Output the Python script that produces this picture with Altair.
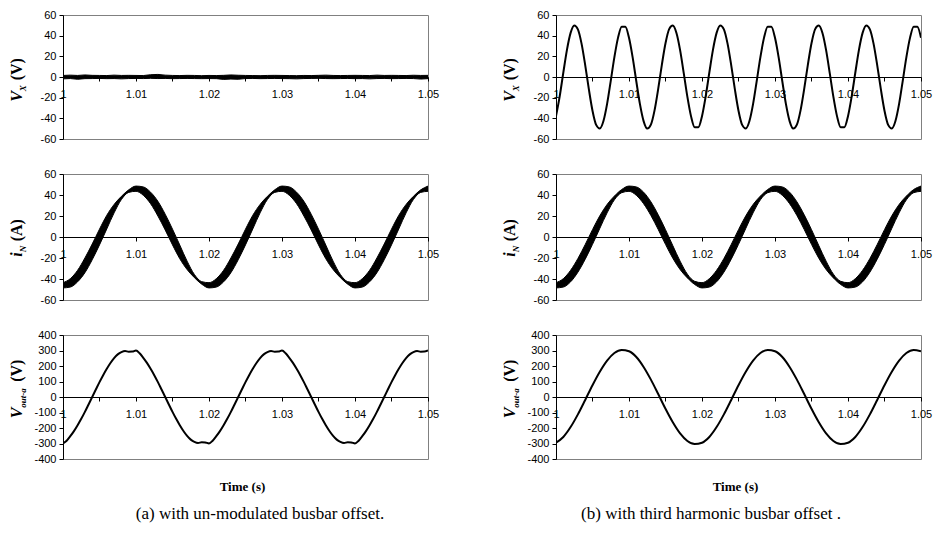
import altair as alt
import pandas as pd

# ---------------- data ----------------
T05 = [
    1.0000, 1.0005, 1.0010, 1.0015, 1.0020, 1.0025, 1.0030, 1.0035, 1.0040, 1.0045,
    1.0050, 1.0055, 1.0060, 1.0065, 1.0070, 1.0075, 1.0080, 1.0085, 1.0090, 1.0095,
    1.0100, 1.0105, 1.0110, 1.0115, 1.0120, 1.0125, 1.0130, 1.0135, 1.0140, 1.0145,
    1.0150, 1.0155, 1.0160, 1.0165, 1.0170, 1.0175, 1.0180, 1.0185, 1.0190, 1.0195,
    1.0200, 1.0205, 1.0210, 1.0215, 1.0220, 1.0225, 1.0230, 1.0235, 1.0240, 1.0245,
    1.0250, 1.0255, 1.0260, 1.0265, 1.0270, 1.0275, 1.0280, 1.0285, 1.0290, 1.0295,
    1.0300, 1.0305, 1.0310, 1.0315, 1.0320, 1.0325, 1.0330, 1.0335, 1.0340, 1.0345,
    1.0350, 1.0355, 1.0360, 1.0365, 1.0370, 1.0375, 1.0380, 1.0385, 1.0390, 1.0395,
    1.0400, 1.0405, 1.0410, 1.0415, 1.0420, 1.0425, 1.0430, 1.0435, 1.0440, 1.0445,
    1.0450, 1.0455, 1.0460, 1.0465, 1.0470, 1.0475, 1.0480, 1.0485, 1.0490, 1.0495,
    1.0500,
]
T1 = T05[::2]

# (a) V_X : residual noise band around zero (1 ms samples)
VX_A_HI = [
    1.5, 1.8, 1.5, 2.0, 1.6, 1.5, 1.4, 1.8, 1.5, 1.6,
    1.5, 1.4, 2.2, 2.5, 1.8, 1.5, 1.4, 1.6, 1.5, 1.3,
    1.5, 1.4, 1.6, 2.0, 1.7, 1.5, 1.4, 1.3, 1.5, 1.6,
    1.5, 1.4, 1.3, 1.5, 1.4, 1.6, 1.8, 1.5, 1.4, 1.5,
    1.6, 1.5, 1.4, 1.8, 1.5, 1.6, 1.5, 1.4, 1.7, 1.5,
    1.6,
]
VX_A_LO = [
    -1.8, -1.5, -2.2, -1.6, -1.5, -1.4, -1.6, -1.5, -1.8, -1.5,
    -1.4, -1.5, -1.3, -1.5, -1.4, -1.6, -1.5, -1.4, -1.5, -1.6,
    -1.5, -1.6, -2.3, -2.0, -2.2, -1.5, -1.4, -1.6, -1.5, -1.4,
    -1.5, -1.6, -1.8, -1.5, -1.4, -1.3, -1.5, -1.6, -1.5, -1.4,
    -1.6, -1.5, -1.8, -1.5, -1.4, -1.6, -1.5, -1.4, -1.5, -2.0,
    -1.6,
]

# (b) V_X : third-harmonic offset (0.5 ms samples)
VX_B = [
    -37.9, -19.0, 4.1, 26.3, 42.7, 49.9, 46.1, 32.3, 11.5, -11.8,
    -32.6, -46.3, -49.8, -42.6, -26.0, -3.7, 19.3, 38.1, 48.7, 48.6,
    37.9, 19.0, -4.1, -26.3, -42.7, -49.9, -46.1, -32.3, -11.5, 11.8,
    32.6, 46.3, 49.8, 42.6, 26.0, 3.7, -19.3, -38.1, -48.7, -48.6,
    -37.9, -19.0, 4.1, 26.3, 42.7, 49.9, 46.1, 32.3, 11.5, -11.8,
    -32.6, -46.3, -49.8, -42.6, -26.0, -3.7, 19.3, 38.1, 48.7, 48.6,
    37.9, 19.0, -4.1, -26.3, -42.7, -49.9, -46.1, -32.3, -11.5, 11.8,
    32.6, 46.3, 49.8, 42.6, 26.0, 3.7, -19.3, -38.1, -48.7, -48.6,
    -37.9, -19.0, 4.1, 26.3, 42.7, 49.9, 46.1, 32.3, 11.5, -11.8,
    -32.6, -46.3, -49.8, -42.6, -26.0, -3.7, 19.3, 38.1, 48.7, 48.6,
    37.9,
]

# i_N : centre of the ripple band and its half-height (1 ms samples)
IN_A_MID = [
    -46.0, -43.7, -37.2, -27.0, -14.2, 0.0, 14.2, 27.0, 37.2, 43.7,
    46.0, 43.7, 37.2, 27.0, 14.2, 0.0, -14.2, -27.0, -37.2, -43.7,
    -46.0, -43.7, -37.2, -27.0, -14.2, 0.0, 14.2, 27.0, 37.2, 43.7,
    46.0, 43.7, 37.2, 27.0, 14.2, 0.0, -14.2, -27.0, -37.2, -43.7,
    -46.0, -43.7, -37.2, -27.0, -14.2, 0.0, 14.2, 27.0, 37.2, 43.7,
    46.0,
]
IN_A_RIP = [
    2.5, 4.0, 5.5, 7.0, 7.5, 7.5, 6.5, 4.0, 1.5, 1.2,
    2.5, 4.0, 5.5, 7.0, 7.5, 7.5, 6.5, 4.0, 1.5, 1.2,
    2.5, 4.0, 5.5, 7.0, 7.5, 7.5, 6.5, 4.0, 1.5, 1.2,
    2.5, 4.0, 5.5, 7.0, 7.5, 7.5, 6.5, 4.0, 1.5, 1.2,
    2.5, 4.0, 5.5, 7.0, 7.5, 7.5, 6.5, 4.0, 1.5, 1.2,
    2.5,
]
IN_B_MID = [
    -46.0, -43.7, -37.2, -27.0, -14.2, 0.0, 14.2, 27.0, 37.2, 43.7,
    46.0, 43.7, 37.2, 27.0, 14.2, 0.0, -14.2, -27.0, -37.2, -43.7,
    -46.0, -43.7, -37.2, -27.0, -14.2, 0.0, 14.2, 27.0, 37.2, 43.7,
    46.0, 43.7, 37.2, 27.0, 14.2, 0.0, -14.2, -27.0, -37.2, -43.7,
    -46.0, -43.7, -37.2, -27.0, -14.2, 0.0, 14.2, 27.0, 37.2, 43.7,
    46.0,
]
IN_B_RIP = [
    2.5, 4.0, 5.5, 6.5, 7.0, 7.0, 6.0, 4.0, 1.8, 1.5,
    2.5, 4.0, 5.5, 6.5, 7.0, 7.0, 6.0, 4.0, 1.8, 1.5,
    2.5, 4.0, 5.5, 6.5, 7.0, 7.0, 6.0, 4.0, 1.8, 1.5,
    2.5, 4.0, 5.5, 6.5, 7.0, 7.0, 6.0, 4.0, 1.8, 1.5,
    2.5, 4.0, 5.5, 6.5, 7.0, 7.0, 6.0, 4.0, 1.8, 1.5,
    2.5,
]

# (a) V_out-a with notched tops (0.5 ms samples)
VOUT_A = [
    -300, -282, -253, -220, -182, -141, -96, -48,
    0, 48, 96, 141, 182, 219, 251, 275, 290, 297, 292, 293, 300, 282, 253, 220, 182, 141, 96, 48,
    0, -48, -96, -141, -182, -219, -251, -275, -290, -297, -292, -293, -300, -282, -253, -220, -182, -141, -96, -48,
    0, 48, 96, 141, 182, 219, 251, 275, 290, 297, 292, 293, 300, 282, 253, 220, 182, 141, 96, 48,
    0, -48, -96, -141, -182, -219, -251, -275, -290, -297, -292, -293, -300, -282, -253, -220, -182, -141, -96, -48,
    0, 48, 96, 141, 182, 219, 251, 275, 290, 297, 292, 293, 300,
]

# (b) V_out-a sinusoidal (1 ms samples)
VOUT_B = [
    -295, -258, -194, -112, -19, 76, 163, 235, 284, 304,
    295, 258, 194, 112, 19, -76, -163, -235, -284, -304,
    -295, -258, -194, -112, -19, 76, 163, 235, 284, 304,
    295, 258, 194, 112, 19, -76, -163, -235, -284, -304,
    -295, -258, -194, -112, -19, 76, 163, 235, 284, 304,
    295,
]

X_TICKS = [1.0, 1.005, 1.01, 1.015, 1.02, 1.025, 1.03, 1.035, 1.04, 1.045, 1.05]
Y_TICKS_60 = [-60, -40, -20, 0, 20, 40, 60]
Y_TICKS_400 = [-400, -300, -200, -100, 0, 100, 200, 300, 400]

# title pieces: (text, kind, italic, offset of this piece from start in px)
TITLE_VX = [("V", "main", True, 0.0), ("X", "sub", True, 10.7), ("(V)", "main", False, 21.5)]
TITLE_IN = [("i", "main", True, 0.0), ("N", "sub", True, 4.5), ("(A)", "main", False, 15.5)]
TITLE_VO = [("V", "main", True, 0.0), ("out-a", "sub", True, 10.7), ("(V)", "main", False, 36.5)]
TITLE_LEN = {"vx": 43.7, "in": 37.7, "vo": 58.7}
X_TITLE = "Time (s)"
CAPTIONS = ["(a) with un-modulated busbar offset.", "(b) with third harmonic busbar offset ."]

# ---------------- style ----------------
SANS = "Liberation Sans"
SERIF = "Liberation Serif"
W = 365
HEIGHTS = [124, 126, 124]
TITLE_SHIFT = [3, 1, -8]
ONE = alt.Data(values=[{"k": 1}])


def x_enc(H):
    return alt.X(
        "t:Q",
        scale=alt.Scale(domain=[1.0, 1.05], nice=False, zero=False),
        axis=alt.Axis(
            values=X_TICKS,
            labelExpr="round(datum.value * 1000) % 10 == 0 ? format(datum.value, '.3~f') : ''",
            offset=-H / 2,
            title=None,
            grid=False,
            domainColor="black",
            tickColor="black",
            tickSize=4,
            labelPadding=7,
            labelFont=SANS,
            labelFontSize=11,
            labelColor="black",
            labelFlush=False,
            labelOverlap=False,
        ),
    )


def y_axis(ticks):
    return alt.Axis(
        values=ticks,
        labelExpr="'' + datum.value",
        title=None,
        grid=False,
        domainColor="black",
        tickColor="black",
        tickSize=4,
        labelPadding=3,
        labelFont=SANS,
        labelFontSize=11,
        labelColor="black",
    )


def title_layers(pieces, total, H, shift):
    y0 = H / 2 + shift + total / 2
    out = []
    for text, kind, italic, off in pieces:
        main = kind == "main"
        out.append(
            alt.Chart(ONE)
            .mark_text(
                text=text, angle=270, align="left", baseline="alphabetic",
                font=SERIF, fontSize=16 if main else 9, fontWeight="bold",
                fontStyle="italic" if italic else "normal", color="black",
            )
            .encode(x=alt.value(-41 if main else -37), y=alt.value(y0 - off))
        )
    return out


def bottom_layers(H, caption, cap_x):
    t1 = alt.Chart(ONE).mark_text(
        text=X_TITLE, font=SERIF, fontSize=13, fontWeight="bold",
        align="center", baseline="middle", color="black",
    ).encode(x=alt.value(W / 2 - 3), y=alt.value(H + 28))
    t2 = alt.Chart(ONE).mark_text(
        text=caption, font=SERIF, fontSize=17,
        align="center", baseline="middle", color="black",
    ).encode(x=alt.value(cap_x), y=alt.value(H + 55))
    return [t1, t2]


def band_panel(t, lo, hi, ticks, dom, H, interp, title, total, shift, extra=()):
    df = pd.DataFrame({"t": t, "lo": lo, "hi": hi})
    base = alt.Chart(df).mark_area(
        color="black", stroke="black", strokeWidth=1, interpolate=interp, clip=True
    ).encode(
        x=x_enc(H),
        y=alt.Y("lo:Q", scale=alt.Scale(domain=dom, nice=False), axis=y_axis(ticks)),
        y2="hi:Q",
    )
    return alt.layer(base, *title_layers(title, total, H, shift), *extra).properties(width=W, height=H)


def line_panel(t, v, ticks, dom, H, title, total, shift, extra=()):
    df = pd.DataFrame({"t": t, "v": v})
    base = alt.Chart(df).mark_line(
        color="black", strokeWidth=2, interpolate="monotone", clip=True
    ).encode(
        x=x_enc(H),
        y=alt.Y("v:Q", scale=alt.Scale(domain=dom, nice=False), axis=y_axis(ticks)),
    )
    return alt.layer(base, *title_layers(title, total, H, shift), *extra).properties(width=W, height=H)


H1, H2, H3 = HEIGHTS

p1a = band_panel(T1, VX_A_LO, VX_A_HI, Y_TICKS_60, [-60, 60], H1, "linear",
                 TITLE_VX, TITLE_LEN["vx"], TITLE_SHIFT[0])
p1b = line_panel(T05, VX_B, Y_TICKS_60, [-60, 60], H1, TITLE_VX, TITLE_LEN["vx"], TITLE_SHIFT[0])

p2a = band_panel(
    T1, [m - r for m, r in zip(IN_A_MID, IN_A_RIP)], [m + r for m, r in zip(IN_A_MID, IN_A_RIP)],
    Y_TICKS_60, [-60, 60], H2, "monotone", TITLE_IN, TITLE_LEN["in"], TITLE_SHIFT[1],
)
p2b = band_panel(
    T1, [m - r for m, r in zip(IN_B_MID, IN_B_RIP)], [m + r for m, r in zip(IN_B_MID, IN_B_RIP)],
    Y_TICKS_60, [-60, 60], H2, "monotone", TITLE_IN, TITLE_LEN["in"], TITLE_SHIFT[1],
)

p3a = line_panel(T05, VOUT_A, Y_TICKS_400, [-400, 400], H3, TITLE_VO, TITLE_LEN["vo"], TITLE_SHIFT[2],
                 extra=bottom_layers(H3, CAPTIONS[0], 197))
p3b = line_panel(T1, VOUT_B, Y_TICKS_400, [-400, 400], H3, TITLE_VO, TITLE_LEN["vo"], TITLE_SHIFT[2],
                 extra=bottom_layers(H3, CAPTIONS[1], 155))

chart = alt.concat(
    p1a, p1b, p2a, p2b, p3a, p3b,
    columns=2,
    spacing={"row": 35, "column": 128},
    bounds="flush",
    padding=0,
).configure_view(stroke="#808080", strokeWidth=1)

chart.save("out.html", embed_options={"renderer": "svg", "actions": False})
